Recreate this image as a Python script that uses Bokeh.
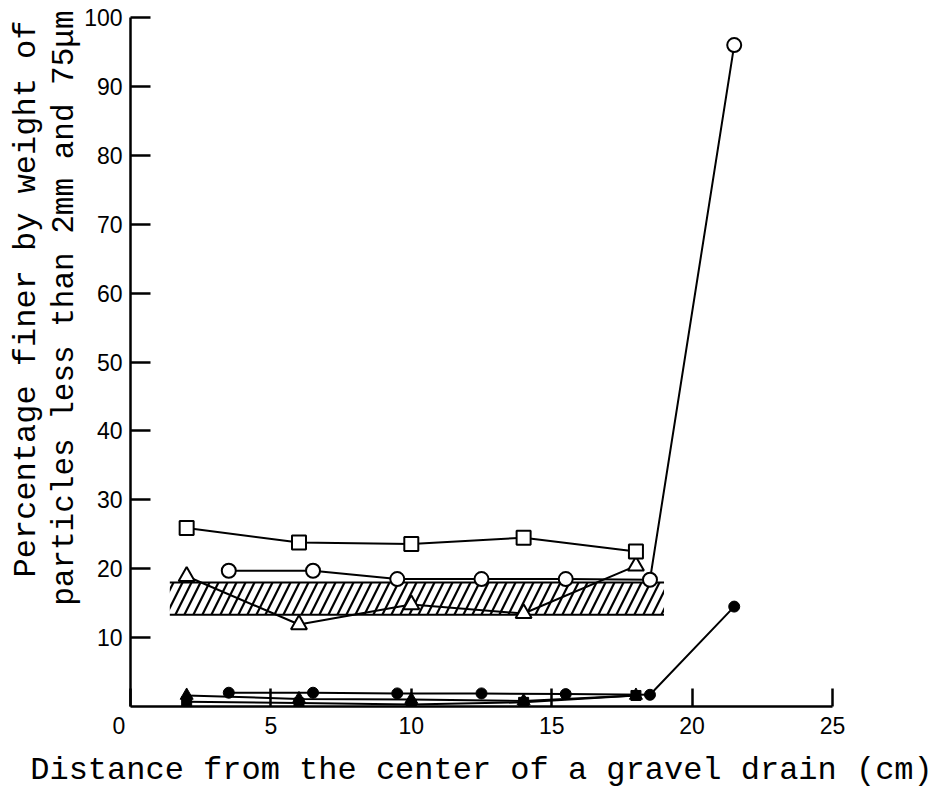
from bokeh.plotting import figure
from bokeh.models import FixedTicker, Title, Range1d
from bokeh.embed import file_html
from bokeh.resources import INLINE

# ---- data ----
open_sq_x = [2, 6, 10, 14, 18]
open_sq_y = [25.9, 23.8, 23.6, 24.5, 22.5]

open_ci_x = [3.5, 6.5, 9.5, 12.5, 15.5, 18.5, 21.5]
open_ci_y = [19.7, 19.7, 18.5, 18.5, 18.5, 18.4, 96.0]

open_tr_x = [2, 6, 10, 14, 18]
open_tr_y = [18.9, 11.9, 14.8, 13.5, 20.4]

fill_ci_x = [3.5, 6.5, 9.5, 12.5, 15.5, 18.5, 21.5]
fill_ci_y = [2.0, 2.0, 1.9, 1.9, 1.8, 1.7, 14.5]

fill_tr_x = [2, 6, 10, 14, 18]
fill_tr_y = [1.6, 1.1, 1.0, 0.8, 1.6]

fill_sq_x = [2, 6, 10, 14, 18]
fill_sq_y = [0.7, 0.5, 0.3, 0.6, 1.6]

band_x = [1.4, 19.0]
band_y = [13.3, 18.0]

x_ticks = [0, 5, 10, 15, 20, 25]
y_ticks = [10, 20, 30, 40, 50, 60, 70, 80, 90, 100]

x_title = "Distance from the center of a gravel drain (cm)"
y_title_1 = "Percentage finer by weight of"
y_title_2 = "particles less than 2mm and 75\u03bcm"

TITLE_FONT = "Liberation Mono"
TICK_FONT = "Liberation Sans"

p = figure(width=934, height=791, output_backend="svg", toolbar_location=None,
           title=None, x_range=Range1d(0, 25), y_range=Range1d(0, 100),
           min_border_left=130, min_border_right=102, min_border_top=17,
           min_border_bottom=78)
p.grid.visible = False
p.outline_line_color = None
p.background_fill_color = "white"
p.border_fill_color = "white"

# axes
for ax in (p.xaxis, p.yaxis):
    ax.axis_line_width = 2.5
    ax.axis_line_color = "black"
    ax.major_tick_line_width = 2.5
    ax.major_tick_line_color = "black"
    ax.major_tick_out = 0
    ax.minor_tick_line_color = None
    ax.major_label_text_font = TICK_FONT
    ax.major_label_text_font_size = "23px"
    ax.major_label_text_color = "black"

p.xaxis.major_label_standoff = 6
p.yaxis.major_label_standoff = 8
p.xaxis.ticker = FixedTicker(ticks=x_ticks)
p.yaxis.ticker = FixedTicker(ticks=y_ticks)
p.xaxis.major_label_overrides = {0: "0\u2002\u2002"}
p.xaxis.major_tick_in = 18
p.yaxis.major_tick_in = 20

p.xaxis.axis_label = x_title
p.xaxis.axis_label_text_font = TITLE_FONT
p.xaxis.axis_label_text_font_size = "32px"
p.xaxis.axis_label_text_font_style = "normal"
p.xaxis.axis_label_text_color = "black"
p.xaxis.axis_label_standoff = 10
p.yaxis.axis_label = None

t2 = Title(text=y_title_2, align="right", offset=-7, standoff=0,
           text_font=TITLE_FONT, text_font_size="31px", text_font_style="normal",
           text_color="black")
p.add_layout(t2, "left")
t1 = Title(text=y_title_1, align="right", offset=3, standoff=0,
           text_font=TITLE_FONT, text_font_size="32px", text_font_style="normal",
           text_color="black")
p.add_layout(t1, "left")

# hatched band
p.quad(left=[band_x[0]], right=[band_x[1]], bottom=[band_y[0]], top=[band_y[1]],
       fill_alpha=0, line_alpha=0, hatch_pattern="/", hatch_color="black",
       hatch_weight=2.2, hatch_scale=18)
p.segment(x0=[band_x[0], band_x[0]], x1=[band_x[1], band_x[1]],
          y0=[band_y[0], band_y[1]], y1=[band_y[0], band_y[1]],
          line_color="black", line_width=2)

LW = 2

# low (filled) series
p.line(fill_sq_x, fill_sq_y, line_color="black", line_width=LW)
p.line(fill_tr_x, fill_tr_y, line_color="black", line_width=LW)
p.line(fill_ci_x, fill_ci_y, line_color="black", line_width=LW)
p.scatter(fill_sq_x, fill_sq_y, marker="square", size=10, fill_color="black", line_color="black")
p.scatter(fill_tr_x, fill_tr_y, marker="triangle", size=13, fill_color="black", line_color="black")
p.scatter(fill_ci_x, fill_ci_y, marker="circle", size=11, fill_color="black", line_color="black")

# open series
p.line(open_tr_x, open_tr_y, line_color="black", line_width=LW)
p.line(open_ci_x, open_ci_y, line_color="black", line_width=LW)
p.line(open_sq_x, open_sq_y, line_color="black", line_width=LW)
p.scatter(open_tr_x, open_tr_y, marker="triangle", size=16, fill_color="white",
          line_color="black", line_width=2)
p.scatter(open_ci_x, open_ci_y, marker="circle", size=14, fill_color="white",
          line_color="black", line_width=2)
p.scatter(open_sq_x, open_sq_y, marker="square", size=14, fill_color="white",
          line_color="black", line_width=2)

open("out.html", "w").write(file_html(p, INLINE))
